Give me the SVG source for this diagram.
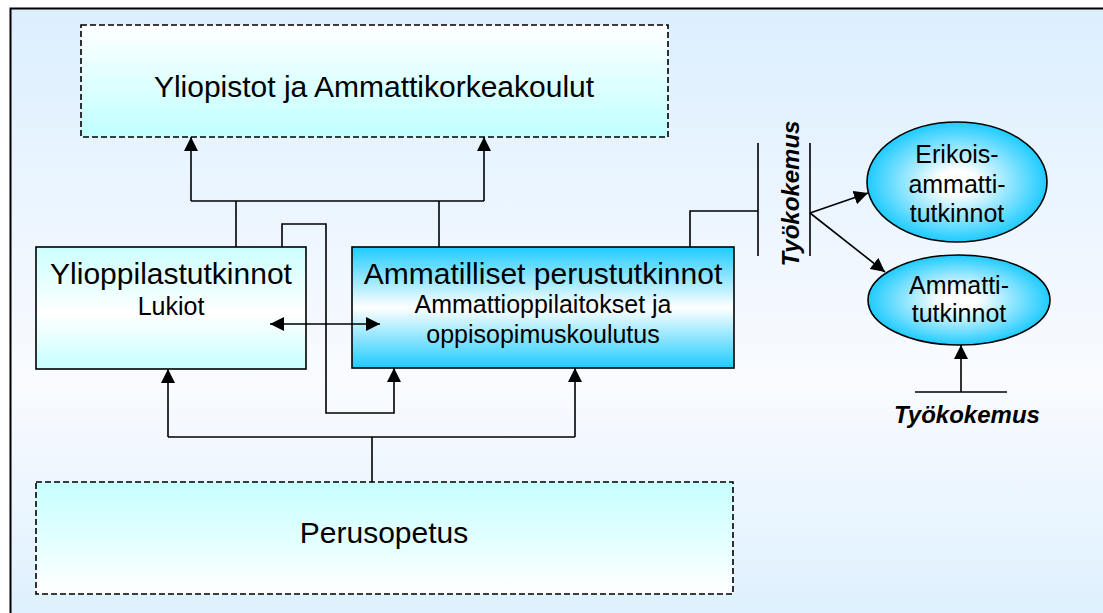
<svg xmlns="http://www.w3.org/2000/svg" width="1103" height="613" viewBox="0 0 1103 613">
  <defs>
    <linearGradient id="bg" x1="0" y1="0" x2="0" y2="1">
      <stop offset="0" stop-color="#dcefff"/>
      <stop offset="0.6" stop-color="#f9fbff"/>
      <stop offset="1" stop-color="#ddf0fe"/>
    </linearGradient>
    <linearGradient id="gTop" x1="0" y1="0" x2="0" y2="1">
      <stop offset="0" stop-color="#ffffff"/>
      <stop offset="1" stop-color="#c0ffff"/>
    </linearGradient>
    <linearGradient id="gBottom" x1="0" y1="0" x2="0" y2="1">
      <stop offset="0" stop-color="#c6ffff"/>
      <stop offset="1" stop-color="#ffffff"/>
    </linearGradient>
    <linearGradient id="gYl" x1="0" y1="0" x2="0" y2="1">
      <stop offset="0" stop-color="#ccffff"/>
      <stop offset="0.55" stop-color="#ffffff"/>
      <stop offset="1" stop-color="#c6ffff"/>
    </linearGradient>
    <linearGradient id="gAm" x1="0" y1="0" x2="0" y2="1">
      <stop offset="0" stop-color="#1ecbff"/>
      <stop offset="0.5" stop-color="#ffffff"/>
      <stop offset="1" stop-color="#1ecbff"/>
    </linearGradient>
    <radialGradient id="gEl" cx="0.5" cy="0.5" r="0.5">
      <stop offset="0" stop-color="#ffffff"/>
      <stop offset="0.2" stop-color="#ffffff"/>
      <stop offset="1" stop-color="#1ecbff"/>
    </radialGradient>
    <marker id="arr" markerUnits="userSpaceOnUse" markerWidth="15" markerHeight="14" refX="14" refY="7" orient="auto-start-reverse">
      <path d="M0,0 L14,7 L0,14 z" fill="#000"/>
    </marker>
  </defs>
  <style>
    .ln { fill: none; stroke: #000; stroke-width: 1.6; }
    .ar { fill: none; stroke: #000; stroke-width: 1.6; marker-end: url(#arr); }
    .box { stroke: #000; stroke-width: 1.6; }
    .dash { stroke: #000; stroke-width: 1.6; stroke-dasharray: 6 3; }
    .t30 { font-family: "Liberation Sans", Arial, sans-serif; font-size: 30px; fill: #000; text-anchor: middle; }
    .t25 { font-family: "Liberation Sans", Arial, sans-serif; font-size: 25px; fill: #000; text-anchor: middle; }
    .tb { font-family: "Liberation Sans", Arial, sans-serif; font-size: 24px; font-weight: bold; font-style: italic; fill: #000; text-anchor: middle; }
  </style>

  <rect x="0" y="0" width="1103" height="613" fill="#ffffff"/>
  <rect x="10.5" y="8.5" width="1100" height="620" fill="url(#bg)"/>
  <path d="M10.5,613 V8.5 H1103" fill="none" stroke="#000" stroke-width="2"/>

  <g id="node-yliopistot">
    <rect class="dash" x="81" y="25" width="587" height="112" fill="url(#gTop)"/>
    <text class="t30" x="374" y="97">Yliopistot ja Ammattikorkeakoulut</text>
  </g>

  <g id="node-ylioppilas">
    <rect class="box" x="36" y="247" width="270" height="122" fill="url(#gYl)"/>
    <text class="t30" x="171" y="284">Ylioppilastutkinnot</text>
    <text class="t25" x="171" y="315">Lukiot</text>
  </g>

  <g id="node-ammatilliset">
    <rect class="box" x="352" y="247" width="382" height="121" fill="url(#gAm)"/>
    <text class="t30" x="543" y="284">Ammatilliset perustutkinnot</text>
    <text class="t25" x="543" y="313">Ammattioppilaitokset ja</text>
    <text class="t25" x="543" y="343">oppisopimuskoulutus</text>
  </g>

  <g id="node-perusopetus">
    <rect class="dash" x="36" y="482" width="697" height="112" fill="url(#gBottom)"/>
    <text class="t30" x="384" y="543">Perusopetus</text>
  </g>

  <g id="node-erikois">
    <ellipse class="box" cx="957" cy="182" rx="90" ry="60" fill="url(#gEl)"/>
    <text class="t25" x="957" y="163">Erikois-</text>
    <text class="t25" x="957" y="193">ammatti-</text>
    <text class="t25" x="957" y="222">tutkinnot</text>
  </g>

  <g id="node-ammatti">
    <ellipse class="box" cx="959" cy="300" rx="91" ry="45" fill="url(#gEl)"/>
    <text class="t25" x="959" y="294">Ammatti-</text>
    <text class="t25" x="959" y="322">tutkinnot</text>
  </g>

  <g id="label-tyokokemus-1">
    <text class="tb" transform="translate(799,193.5) rotate(-90)" x="0" y="0">Työkokemus</text>
  </g>
  <g id="label-tyokokemus-2">
    <text class="tb" x="967" y="423">Työkokemus</text>
  </g>

  <g id="connectors">
    <path class="ln" d="M236,247 V201 M191,201 H484 M439,247 V201"/>
    <path class="ar" d="M191,201 V137"/>
    <path class="ar" d="M484,201 V137"/>
    <path class="ar" d="M282,247 V224 H326 V413 H394 V368"/>
    <path class="ar" d="M270,324 H380" marker-start="url(#arr)"/>
    <path class="ln" d="M372,482 V437 M168,437 H575"/>
    <path class="ar" d="M168,437 V369"/>
    <path class="ar" d="M575,437 V368"/>
    <path class="ln" d="M690,247 V211 H758"/>
    <path class="ln" d="M758,143 V256 M810,143 V256"/>
    <path class="ar" d="M810,213 L868,193"/>
    <path class="ar" d="M810,213 L885,272"/>
    <path class="ln" d="M915,392 H1007"/>
    <path class="ar" d="M961,392 V345"/>
  </g>
</svg>
